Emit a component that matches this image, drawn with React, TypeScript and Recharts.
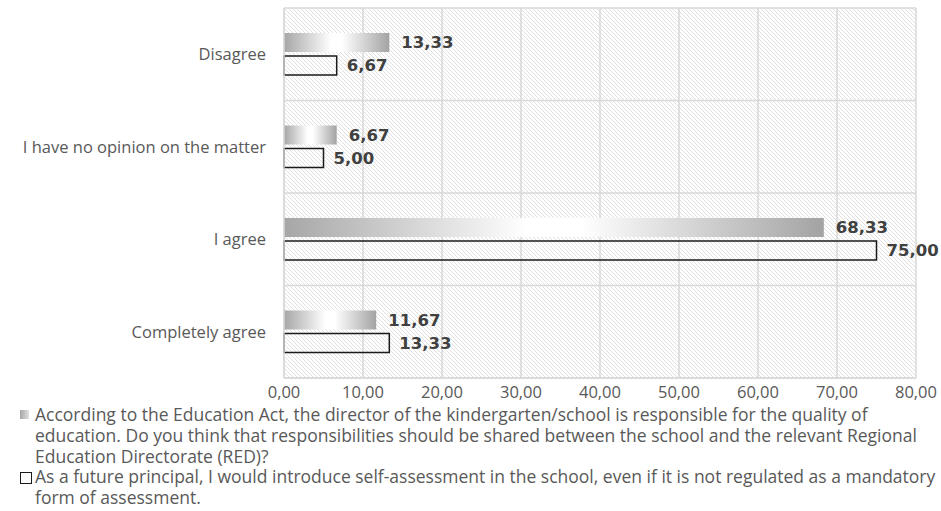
import React from "react";
import { BarChart, Bar, XAxis, YAxis, CartesianGrid, LabelList } from "recharts";

const categories = ["Disagree", "I have no opinion on the matter", "I agree", "Completely agree"];
const sharedResponsibility = [13.33, 6.67, 68.33, 11.67];
const selfAssessment = [6.67, 5.0, 75.0, 13.33];
const xTicks = [0, 10, 20, 30, 40, 50, 60, 70, 80];
const seriesNames = [
  "According to the Education Act, the director of the kindergarten/school is responsible for the quality of education. Do you think that responsibilities should be shared between the school and the relevant Regional Education Directorate (RED)?",
  "As a future principal, I would introduce self-assessment in the school, even if it is not regulated as a mandatory form of assessment.",
];

const data = categories.map((c, i) => ({
  category: c,
  a: sharedResponsibility[i],
  b: selfAssessment[i],
}));

const fmt = (v: any) => Number(v).toFixed(2).replace(".", ",");

const XTick = (props: any) => {
  const { x, y, payload } = props;
  return (
    <text
      x={x}
      y={y}
      dy={12}
      textAnchor="middle"
      fontFamily="'Open Sans', sans-serif"
      fontSize={16.5}
      fill="#595959"
    >
      {fmt(payload.value)}
    </text>
  );
};

export default function App() {
  return (
    <div style={{ position: "absolute", left: 0, top: 0, width: 941, height: 511, background: "#fff", overflow: "hidden" }}>
      <BarChart
        width={941}
        height={405}
        data={data}
        layout="vertical"
        margin={{ top: 8, right: 25, bottom: 0, left: 0 }}
        barSize={19}
        barGap={4}
      >
        <defs>
          <pattern id="hatch" patternUnits="userSpaceOnUse" width="4" height="4">
            <rect width="4" height="4" fill="#ffffff" />
            <path d="M0,0 L4,4 M-1,3 L1,5 M3,-1 L5,1" stroke="#d8d8d8" strokeWidth="0.8" />
          </pattern>
          <linearGradient id="grayGrad" x1="0" y1="0" x2="1" y2="0">
            <stop offset="0%" stopColor="#a6a6a6" />
            <stop offset="45%" stopColor="#ffffff" />
            <stop offset="55%" stopColor="#ffffff" />
            <stop offset="100%" stopColor="#a3a3a3" />
          </linearGradient>
        </defs>
        <CartesianGrid
          fill="url(#hatch)"
          stroke="#d9d9d9"
          strokeWidth={1.5}
          horizontalCoordinatesGenerator={({ offset }: any) =>
            [0, 1, 2, 3, 4].map((i) => offset.top + (offset.height * i) / 4)
          }
        />
        <XAxis
          type="number"
          domain={[0, 80]}
          ticks={xTicks}
          axisLine={{ stroke: "#d9d9d9", strokeWidth: 1.5 }}
          tickLine={false}
          tick={<XTick />}
          height={27}
          tickMargin={2}
          interval={0}
        />
        <YAxis
          type="category"
          dataKey="category"
          width={284}
          axisLine={{ stroke: "#d9d9d9", strokeWidth: 1.5 }}
          tickLine={false}
          tickSize={0}
          tickMargin={18}
          tick={{ fontFamily: "'Open Sans', sans-serif", fontSize: 16.5, fill: "#595959" }}
        />
        <Bar dataKey="a" fill="url(#grayGrad)" isAnimationActive={false}>
          <LabelList
            dataKey="a"
            position="right"
            offset={12}
            formatter={fmt}
            style={{ fontFamily: "'DejaVu Sans', sans-serif", fontWeight: "bold", fontSize: 16.5, fill: "#404040" }}
          />
        </Bar>
        <Bar dataKey="b" fill="none" stroke="#1a1a1a" strokeWidth={1.5} isAnimationActive={false}>
          <LabelList
            dataKey="b"
            position="right"
            offset={10}
            formatter={fmt}
            style={{ fontFamily: "'DejaVu Sans', sans-serif", fontWeight: "bold", fontSize: 16.5, fill: "#404040" }}
          />
        </Bar>
      </BarChart>
      <div
        style={{
          position: "absolute",
          left: 20,
          top: 404,
          width: 921,
          fontFamily: "'Open Sans', sans-serif",
          fontSize: 17.5,
          letterSpacing: "0px",
          lineHeight: "20.8px",
          color: "#595959",
        }}
      >
        {seriesNames.map((name, i) => (
          <div key={i} style={{ display: "flex", alignItems: "flex-start" }}>
            <span
              style={{
                flex: "0 0 auto",
                width: i === 0 ? 9 : 10,
                height: i === 0 ? 9 : 10,
                marginTop: 6,
                marginRight: i === 0 ? 6 : 3,
                background: i === 0 ? "linear-gradient(90deg,#a6a6a6,#e0e0e0)" : "transparent",
                border: i === 0 ? "none" : "1.5px solid #1a1a1a",
              }}
            />
            <span>{name}</span>
          </div>
        ))}
      </div>
    </div>
  );
}
